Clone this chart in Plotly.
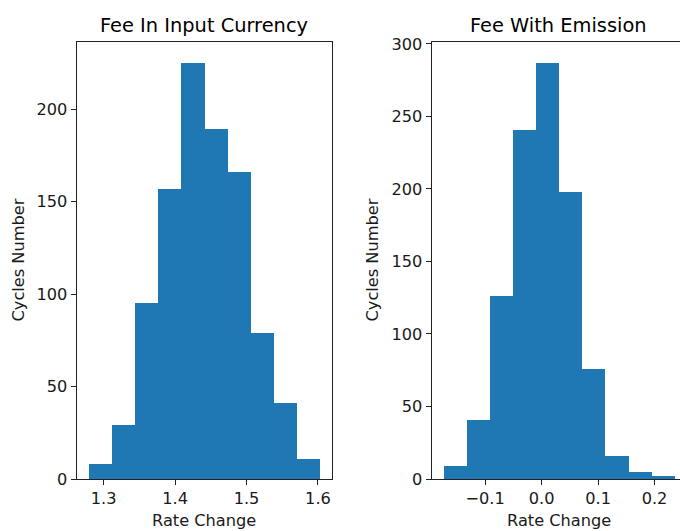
import plotly.graph_objects as go

# Data: histogram counts
fee_input_start = 1.2785
fee_input_width = 0.03245
fee_input_counts = [8, 29, 95, 157, 225, 189, 166, 79, 41, 11]

fee_emission_start = -0.1742
fee_emission_width = 0.04095
fee_emission_counts = [9, 41, 126, 241, 287, 198, 76, 16, 5, 2]

left_xticks = [1.3, 1.4, 1.5, 1.6]
left_xticklabels = ["1.3", "1.4", "1.5", "1.6"]
left_yticks = [0, 50, 100, 150, 200]
right_xticks = [-0.1, 0.0, 0.1, 0.2]
right_xticklabels = ["\u22120.1", "0.0", "0.1", "0.2"]
right_yticks = [0, 50, 100, 150, 200, 250, 300]

titles = ["Fee In Input Currency", "Fee With Emission"]
xlabel = "Rate Change"
ylabel = "Cycles Number"

BLUE = "#1f77b4"
FONT = "DejaVu Sans"
W, H = 680, 531
TICK_SIZE = 16.2
TITLE_SIZE = 19.4


def centers(start, width, n):
    return [start + width * (i + 0.5) for i in range(n)]


fig = go.Figure()
fig.add_trace(go.Bar(
    x=centers(fee_input_start, fee_input_width, len(fee_input_counts)),
    y=fee_input_counts, width=fee_input_width,
    marker=dict(color=BLUE, line=dict(width=0)),
    xaxis="x", yaxis="y", showlegend=False, hoverinfo="x+y"))
fig.add_trace(go.Bar(
    x=centers(fee_emission_start, fee_emission_width, len(fee_emission_counts)),
    y=fee_emission_counts, width=fee_emission_width,
    marker=dict(color=BLUE, line=dict(width=0)),
    xaxis="x2", yaxis="y2", showlegend=False, hoverinfo="x+y"))

# axis limits with matplotlib-like 5% margins
l_lo = fee_input_start
l_hi = fee_input_start + fee_input_width * len(fee_input_counts)
l_m = 0.05 * (l_hi - l_lo)
r_lo = fee_emission_start
r_hi = fee_emission_start + fee_emission_width * len(fee_emission_counts)
r_m = 0.05 * (r_hi - r_lo)

# pixel geometry
lx0, lx1 = 76.7, 331.7
rx0 = 431.7
r_px_per_unit = (686.0 - rx0) / ((r_hi + r_m) - (r_lo - r_m))
r_right_visible = (r_lo - r_m) + (W - rx0) / r_px_per_unit
ytop, ybot = 42, 479

axis_common = dict(
    showgrid=False, zeroline=False, showline=True, linecolor="#222222",
    linewidth=1.1, ticks="outside", ticklen=5, tickwidth=1.1, tickcolor="#222222",
    automargin=False,
    tickfont=dict(family=FONT, size=TICK_SIZE, color="#1a1a1a"),
)

fig.update_layout(
    width=W, height=H,
    margin=dict(l=0, r=0, t=0, b=0, pad=0, autoexpand=False),
    paper_bgcolor="white", plot_bgcolor="white",
    bargap=0,
    xaxis=dict(domain=[lx0 / W, lx1 / W], range=[l_lo - l_m, l_hi + l_m],
               tickvals=left_xticks, ticktext=left_xticklabels,
               mirror=True, anchor="y", **axis_common),
    yaxis=dict(domain=[(H - ybot) / H, (H - ytop) / H],
               range=[0, max(fee_input_counts) * 1.05],
               tickvals=left_yticks, mirror=True, anchor="x", **axis_common),
    xaxis2=dict(domain=[rx0 / W, 1.0], range=[r_lo - r_m, r_right_visible],
                tickvals=right_xticks, ticktext=right_xticklabels,
                mirror=True, anchor="y2", **axis_common),
    yaxis2=dict(domain=[(H - ybot) / H, (H - ytop) / H],
                range=[0, max(fee_emission_counts) * 1.05],
                tickvals=right_yticks, mirror=False, anchor="x2", **axis_common),
)

ann = []
# titles
ann.append(dict(text=titles[0], x=(lx0 + lx1) / 2 / W, y=(H - 25) / H,
                xref="paper", yref="paper", showarrow=False,
                font=dict(family=FONT, size=TITLE_SIZE, color="black"),
                xanchor="center", yanchor="middle"))
ann.append(dict(text=titles[1], x=(rx0 + 686.0) / 2 / W, y=(H - 25) / H,
                xref="paper", yref="paper", showarrow=False,
                font=dict(family=FONT, size=TITLE_SIZE, color="black"),
                xanchor="center", yanchor="middle"))
# x labels
for cx in [(lx0 + lx1) / 2, (rx0 + 686.0) / 2]:
    ann.append(dict(text=xlabel, x=cx / W, y=(H - 520) / H,
                    xref="paper", yref="paper", showarrow=False,
                    font=dict(family=FONT, size=TICK_SIZE, color="#1a1a1a"),
                    xanchor="center", yanchor="middle"))
# y labels
for cx in [18, 372]:
    ann.append(dict(text=ylabel, x=cx / W, y=(H - (ytop + ybot) / 2) / H,
                    xref="paper", yref="paper", showarrow=False, textangle=-90,
                    font=dict(family=FONT, size=TICK_SIZE, color="#1a1a1a"),
                    xanchor="center", yanchor="middle"))
fig.update_layout(annotations=ann)

fig.write_html(
    "out.html",
    config={"displayModeBar": False},
    post_script="document.body.style.margin='0';document.body.style.overflow='hidden';",
)
